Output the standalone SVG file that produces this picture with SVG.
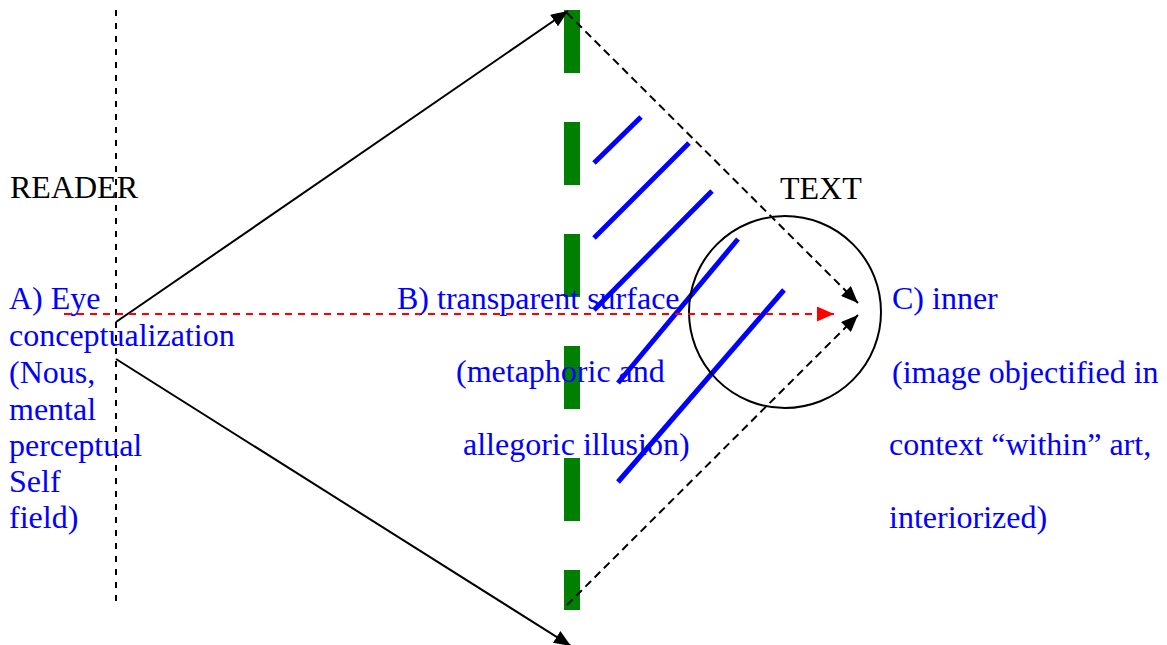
<svg xmlns="http://www.w3.org/2000/svg" width="1167" height="645" viewBox="0 0 1167 645">
<style>
text{font-family:"Liberation Serif","Times New Roman",serif;font-size:32px}
.blk{fill:#000}
.blu{fill:#0000FF}
.solid{stroke:#000;stroke-width:2;fill:none}
.vdash{stroke:#000;stroke-width:2;fill:none;stroke-dasharray:6 7}
.dash{stroke:#000;stroke-width:2;fill:none;stroke-dasharray:8 5}
.red{stroke:#FF0000;stroke-width:2;fill:none;stroke-dasharray:7 6}
.hatch{stroke:#0000FF;stroke-width:5;stroke-linecap:butt}
</style>
<defs>
<marker id="ah" markerUnits="userSpaceOnUse" markerWidth="17" markerHeight="14" refX="17" refY="7" orient="auto"><path d="M0,0 L17,7 L0,14 z" fill="#000"/></marker>
<marker id="ahr" markerUnits="userSpaceOnUse" markerWidth="17" markerHeight="15" refX="17" refY="7.5" orient="auto"><path d="M0,0 L17,7.5 L0,15 z" fill="#FF0000"/></marker>
</defs>
<rect width="1167" height="645" fill="#fff"/>
<g id="reader-axis">
<line x1="116" y1="10" x2="116" y2="605" class="vdash"/>
</g>
<g id="surface">
<line x1="572" y1="10" x2="572" y2="610" stroke="#008000" stroke-width="16" stroke-dasharray="63 49"/>
</g>
<g id="hatching">
<line x1="594" y1="163" x2="641" y2="117" class="hatch"/>
<line x1="594" y1="238" x2="689" y2="143" class="hatch"/>
<line x1="594" y1="310" x2="712" y2="191" class="hatch"/>
<line x1="618" y1="383" x2="738" y2="239" class="hatch"/>
<line x1="618" y1="482" x2="784" y2="290" class="hatch"/>
</g>
<g id="text-circle">
<circle cx="785" cy="312" r="96" fill="none" stroke="#000" stroke-width="2"/>
</g>
<g id="connectors">
<line x1="116" y1="322" x2="568" y2="11" class="solid" marker-end="url(#ah)"/>
<line x1="116" y1="359" x2="571" y2="646" class="solid" marker-end="url(#ah)"/>
<line x1="567" y1="13" x2="858" y2="303" class="dash" marker-end="url(#ah)"/>
<line x1="567" y1="605" x2="858" y2="315" class="dash" marker-end="url(#ah)"/>
<line x1="64" y1="314" x2="834" y2="314" class="red" marker-end="url(#ahr)"/>
</g>
<g id="label-reader"><text x="10" y="198" class="blk">READER</text></g>
<g id="label-text"><text x="780" y="199" class="blk">TEXT</text></g>
<g id="label-a" class="blu">
<text x="9" y="309">A) Eye</text>
<text x="9" y="346">conceptualization</text>
<text x="9" y="383">(Nous,</text>
<text x="9" y="420">mental</text>
<text x="9" y="456">perceptual</text>
<text x="9" y="492">Self</text>
<text x="9" y="528">field)</text>
</g>
<g id="label-b" class="blu">
<text x="397" y="309">B) transparent surface</text>
<text x="456" y="382">(metaphoric and</text>
<text x="463" y="455">allegoric illusion)</text>
</g>
<g id="label-c" class="blu">
<text x="892" y="309">C) inner</text>
<text x="892" y="383">(image objectified in</text>
<text x="889" y="455">context “within” art,</text>
<text x="889" y="528">interiorized)</text>
</g>
</svg>
